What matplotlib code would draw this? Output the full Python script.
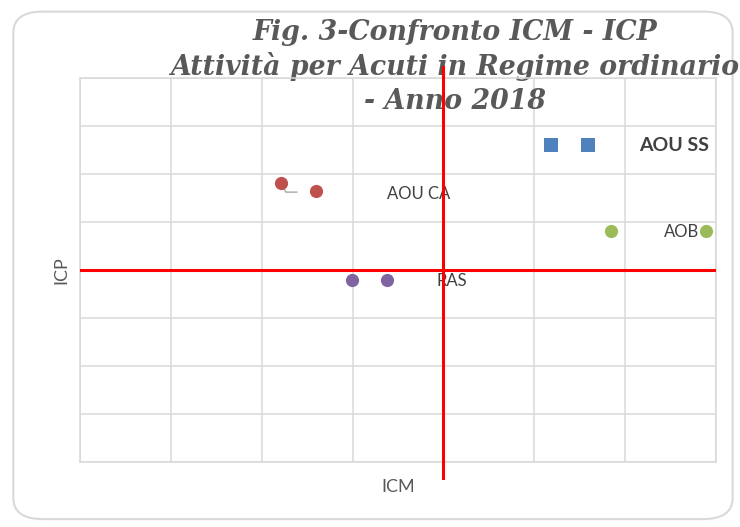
import matplotlib.pyplot as plt
from matplotlib.patches import FancyBboxPatch

# Data (ICM on x, ICP on y)
series_names = ['AOU SS', 'AOU CA', 'AOB', 'RAS']
series_colors = ['#4F81BD', '#C0504D', '#9BBB59', '#8064A2']
series_markers = ['s', 'o', 'o', 'o']
icm_values = [[1.118, 1.159], [0.821, 0.860], [1.184, 1.289], [0.899, 0.938]]
icp_values = [[1.260, 1.260], [1.181, 1.165], [1.081, 1.081], [0.979, 0.979]]

# label positions (data coords) and styles
label_pos = [(1.215, 1.260), (0.938, 1.158), (1.281, 1.079), (0.992, 0.977)]
label_ha = ['left', 'left', 'right', 'left']
label_size = [14, 12, 12, 12]
label_bold = [True, False, False, False]

ref_icm = 1.0
ref_icp = 1.0
ref_line_span = [0.567, 1.423]

title_lines = ['Fig. 3-Confronto ICM - ICP',
               'Attività per Acuti in Regime ordinario',
               '- Anno 2018']

grey_text = '#595959'
grid_col = '#D9D9D9'

fig = plt.figure(figsize=(7.4, 5.27), dpi=100)

# rounded chart border
border = FancyBboxPatch((0.018, 0.015), 0.972, 0.963,
                        boxstyle='round,pad=0,rounding_size=0.04',
                        transform=fig.transFigure, facecolor='none',
                        edgecolor=grid_col, linewidth=1.5, zorder=-1)
fig.patches.append(border)

ax = fig.add_axes([0.1081, 0.1233, 0.8595, 0.7287])
ax.set_xlim(0.6, 1.3)
ax.set_ylim(0.6, 1.4)
ax.set_xticks([0.6 + 0.1 * i for i in range(8)])
ax.set_yticks([0.6 + 0.1 * i for i in range(9)])
ax.tick_params(length=0, labelleft=False, labelbottom=False)
ax.grid(True, color=grid_col, linewidth=1.1)
ax.set_axisbelow(True)
for s in ax.spines.values():
    s.set_color(grid_col)
    s.set_linewidth(1.1)
ax.set_facecolor('none')

# title drawn inside the axes so the red line passes over it
title_y = [0.939, 0.874, 0.808]
for line, y in zip(title_lines, title_y):
    ax.text(0.615, y, line, ha='center', va='center', fontsize=19.3,
            family='DejaVu Serif', style='italic', fontweight='bold',
            color=grey_text, transform=fig.transFigure, zorder=2,
            clip_on=False)

for name, pos, ha, size, bold in zip(series_names, label_pos, label_ha,
                                     label_size, label_bold):
    ax.text(pos[0], pos[1], name, ha=ha, va='center', fontsize=size,
            family='Lato', color='#404040',
            fontweight='bold' if bold else 'normal', zorder=2.5)

# reference lines
ax.axhline(ref_icp, color='red', linewidth=2.2, zorder=3)
ax.plot([ref_icm, ref_icm], ref_line_span, color='red', linewidth=2.2,
        clip_on=False, zorder=3)

# small leader line of AOU CA label (pixel offsets from the first point)
ux = 0.7 / 636
uy = 0.8 / 384
x0, y0 = icm_values[1][0], icp_values[1][0]
ax.plot([x0, x0 + 5 * ux, x0 + 16 * ux], [y0, y0 - 9 * uy, y0 - 9 * uy],
        color='#A6A6A6', linewidth=1, zorder=3.5)

for name, col, mk, xs, ys in zip(series_names, series_colors, series_markers,
                                icm_values, icp_values):
    ax.scatter(xs, ys, marker=mk, s=95 if mk == 's' else 90, color=col,
               linewidths=0, zorder=4, clip_on=False)

ax.set_xlabel('ICM', fontsize=13, family='Lato', color=grey_text, labelpad=12)
ax.set_ylabel('ICP', fontsize=13, family='Lato', color=grey_text, labelpad=8)

fig.savefig('out.png', dpi=100)
